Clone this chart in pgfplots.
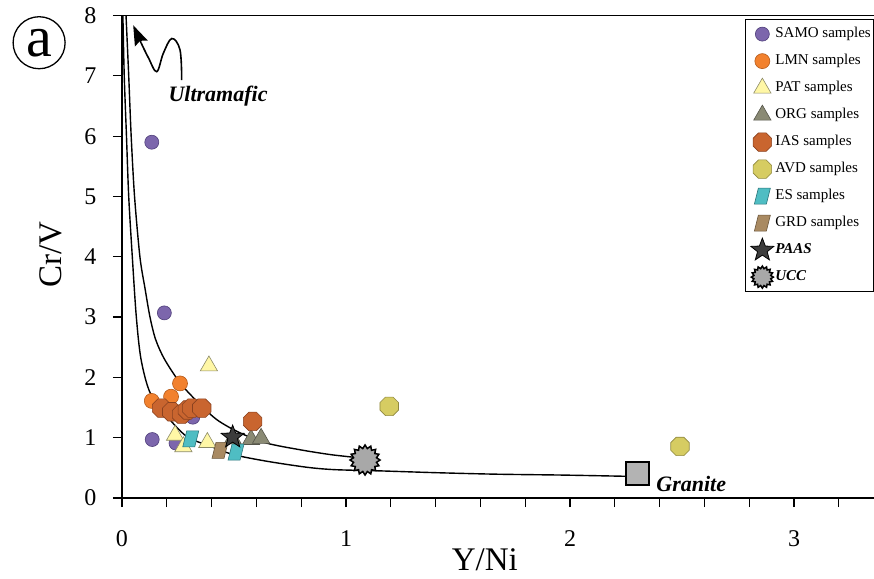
\documentclass[border=0pt]{standalone}
\usepackage{fontspec}
\setmainfont{Liberation Serif}
\usepackage{pgfplots}
\pgfplotsset{compat=1.18}
\usetikzlibrary{arrows.meta}

\definecolor{samoF}{HTML}{7C66AC}\definecolor{samoD}{HTML}{4F3F7A}
\definecolor{lmnF}{HTML}{F2812E}\definecolor{lmnD}{HTML}{B55A1A}
\definecolor{patF}{HTML}{FFF7A6}\definecolor{patD}{HTML}{8C8A66}
\definecolor{orgF}{HTML}{8A8A74}\definecolor{orgD}{HTML}{55554A}
\definecolor{iasF}{HTML}{C9652F}\definecolor{iasD}{HTML}{8A4220}
\definecolor{avdF}{HTML}{D6CC62}\definecolor{avdD}{HTML}{8F8840}
\definecolor{esF}{HTML}{4FBDC3}\definecolor{esD}{HTML}{2B7479}
\definecolor{grdF}{HTML}{A98A62}\definecolor{grdD}{HTML}{6B563B}
\definecolor{paasF}{HTML}{3C3C3C}
\definecolor{uccF}{HTML}{A8A8A8}
\definecolor{graF}{HTML}{B3B3B3}

\pgfdeclareplotmark{octa}{%
  \pgfpathmoveto{\pgfpointpolar{22.5}{\pgfplotmarksize}}%
  \pgfpathlineto{\pgfpointpolar{67.5}{\pgfplotmarksize}}%
  \pgfpathlineto{\pgfpointpolar{112.5}{\pgfplotmarksize}}%
  \pgfpathlineto{\pgfpointpolar{157.5}{\pgfplotmarksize}}%
  \pgfpathlineto{\pgfpointpolar{202.5}{\pgfplotmarksize}}%
  \pgfpathlineto{\pgfpointpolar{247.5}{\pgfplotmarksize}}%
  \pgfpathlineto{\pgfpointpolar{292.5}{\pgfplotmarksize}}%
  \pgfpathlineto{\pgfpointpolar{337.5}{\pgfplotmarksize}}%
  \pgfpathclose\pgfusepathqfillstroke}

\pgfdeclareplotmark{para}{%
  \pgfpathmoveto{\pgfqpoint{-\pgfplotmarksize}{-\pgfplotmarksize}}%
  \pgfpathlineto{\pgfqpoint{0.5\pgfplotmarksize}{-\pgfplotmarksize}}%
  \pgfpathlineto{\pgfqpoint{\pgfplotmarksize}{\pgfplotmarksize}}%
  \pgfpathlineto{\pgfqpoint{-0.5\pgfplotmarksize}{\pgfplotmarksize}}%
  \pgfpathclose\pgfusepathqfillstroke}

\pgfdeclareplotmark{fstar}{%
  \pgfpathmoveto{\pgfpointpolar{90}{\pgfplotmarksize}}%
  \pgfpathlineto{\pgfpointpolar{126}{0.42\pgfplotmarksize}}%
  \pgfpathlineto{\pgfpointpolar{162}{\pgfplotmarksize}}%
  \pgfpathlineto{\pgfpointpolar{198}{0.42\pgfplotmarksize}}%
  \pgfpathlineto{\pgfpointpolar{234}{\pgfplotmarksize}}%
  \pgfpathlineto{\pgfpointpolar{270}{0.42\pgfplotmarksize}}%
  \pgfpathlineto{\pgfpointpolar{306}{\pgfplotmarksize}}%
  \pgfpathlineto{\pgfpointpolar{342}{0.42\pgfplotmarksize}}%
  \pgfpathlineto{\pgfpointpolar{18}{\pgfplotmarksize}}%
  \pgfpathlineto{\pgfpointpolar{54}{0.42\pgfplotmarksize}}%
  \pgfpathclose\pgfusepathqfillstroke}

\pgfdeclareplotmark{burst}{%
  \pgfpathmoveto{\pgfpointpolar{0}{\pgfplotmarksize}}%
  \pgfpathlineto{\pgfpointpolar{11.25}{0.78\pgfplotmarksize}}%
  \pgfpathlineto{\pgfpointpolar{22.5}{\pgfplotmarksize}}%
  \pgfpathlineto{\pgfpointpolar{33.75}{0.78\pgfplotmarksize}}%
  \pgfpathlineto{\pgfpointpolar{45}{\pgfplotmarksize}}%
  \pgfpathlineto{\pgfpointpolar{56.25}{0.78\pgfplotmarksize}}%
  \pgfpathlineto{\pgfpointpolar{67.5}{\pgfplotmarksize}}%
  \pgfpathlineto{\pgfpointpolar{78.75}{0.78\pgfplotmarksize}}%
  \pgfpathlineto{\pgfpointpolar{90}{\pgfplotmarksize}}%
  \pgfpathlineto{\pgfpointpolar{101.25}{0.78\pgfplotmarksize}}%
  \pgfpathlineto{\pgfpointpolar{112.5}{\pgfplotmarksize}}%
  \pgfpathlineto{\pgfpointpolar{123.75}{0.78\pgfplotmarksize}}%
  \pgfpathlineto{\pgfpointpolar{135}{\pgfplotmarksize}}%
  \pgfpathlineto{\pgfpointpolar{146.25}{0.78\pgfplotmarksize}}%
  \pgfpathlineto{\pgfpointpolar{157.5}{\pgfplotmarksize}}%
  \pgfpathlineto{\pgfpointpolar{168.75}{0.78\pgfplotmarksize}}%
  \pgfpathlineto{\pgfpointpolar{180}{\pgfplotmarksize}}%
  \pgfpathlineto{\pgfpointpolar{191.25}{0.78\pgfplotmarksize}}%
  \pgfpathlineto{\pgfpointpolar{202.5}{\pgfplotmarksize}}%
  \pgfpathlineto{\pgfpointpolar{213.75}{0.78\pgfplotmarksize}}%
  \pgfpathlineto{\pgfpointpolar{225}{\pgfplotmarksize}}%
  \pgfpathlineto{\pgfpointpolar{236.25}{0.78\pgfplotmarksize}}%
  \pgfpathlineto{\pgfpointpolar{247.5}{\pgfplotmarksize}}%
  \pgfpathlineto{\pgfpointpolar{258.75}{0.78\pgfplotmarksize}}%
  \pgfpathlineto{\pgfpointpolar{270}{\pgfplotmarksize}}%
  \pgfpathlineto{\pgfpointpolar{281.25}{0.78\pgfplotmarksize}}%
  \pgfpathlineto{\pgfpointpolar{292.5}{\pgfplotmarksize}}%
  \pgfpathlineto{\pgfpointpolar{303.75}{0.78\pgfplotmarksize}}%
  \pgfpathlineto{\pgfpointpolar{315}{\pgfplotmarksize}}%
  \pgfpathlineto{\pgfpointpolar{326.25}{0.78\pgfplotmarksize}}%
  \pgfpathlineto{\pgfpointpolar{337.5}{\pgfplotmarksize}}%
  \pgfpathlineto{\pgfpointpolar{348.75}{0.78\pgfplotmarksize}}%
  \pgfpathclose\pgfusepathqfillstroke}

\pgfplotsset{
  lgimg/.style={legend image code/.code={%
    \begin{pgfinterruptboundingbox}\draw[##1] plot coordinates {(15pt,0pt)};\end{pgfinterruptboundingbox}%
    \path[draw=none,fill=none] (0pt,-8pt) rectangle (27pt,8pt);}},
}

\begin{document}
\begin{tikzpicture}
\begin{axis}[
  x=224pt, y=60.3pt,
  xmin=0, xmax=3.4, ymin=0, ymax=8,
  clip=false,
  axis x line=box, axis y line=left,
  x axis line style={-}, y axis line style={-},
  axis line style={line width=1.5pt, black},
  xtick pos=left, ytick pos=left,
  xtick={0,1,2,3},
  minor xtick={0.2,0.4,0.6,0.8,1.2,1.4,1.6,1.8,2.2,2.4,2.6,2.8,3.2},
  ytick={0,1,2,3,4,5,6,7,8},
  tick align=outside,
  major tick length=9pt, minor tick length=9pt,
  every tick/.style={black, line width=1.2pt},
  /pgf/number format/assume math mode=true,
  tick label style={font=\fontsize{24}{24}\selectfont},
  xticklabel style={yshift=-20pt},
  yticklabel style={xshift=-13pt},
  xlabel={Y/Ni}, ylabel={Cr/V},
  every axis x label/.style={at={(axis description cs:0.4765,-0.127)}, anchor=center,
    font=\fontsize{33}{33}\selectfont},
  every axis y label/.style={at={(axis description cs:-0.0932,0.505)}, rotate=90, anchor=center,
    font=\fontsize{33}{33}\selectfont},
  legend style={at={(axis cs:2.781,7.94)}, anchor=north west, draw=black, line width=0.8pt,
    font=\fontsize{15}{15}\selectfont, row sep=10pt, inner xsep=2pt, inner ysep=6pt,
    nodes={inner sep=1pt, text height=11pt, text depth=4pt, anchor=west}},
  legend cell align=left,
]
\coordinate (o) at (axis cs:0,0);

% mixing curves
\addplot[black, line width=1.4pt, smooth, tension=0.5, forget plot] coordinates {
 (0.018,8.0) (0.030,7.0) (0.041,6.0) (0.056,5.0) (0.080,4.0) (0.103,3.47) (0.125,3.0)
 (0.150,2.63) (0.190,2.30) (0.259,1.91) (0.333,1.61) (0.423,1.30) (0.527,1.08)
 (0.646,0.91) (0.795,0.80) (0.93,0.72) (1.05,0.67)};
\addplot[black, line width=1.4pt, smooth, tension=0.5, forget plot] coordinates {
 (0.004,8.0) (0.010,7.0) (0.020,6.0) (0.030,5.0) (0.046,4.0) (0.064,3.0) (0.085,2.30)
 (0.125,1.75) (0.200,1.36) (0.289,1.02) (0.393,0.86) (0.497,0.72) (0.646,0.61)
 (0.825,0.51) (0.95,0.47) (1.15,0.45) (1.40,0.42) (1.67,0.395) (1.97,0.38) (2.25,0.36)};

\addplot[only marks, lgimg, mark=*, mark size=7pt, mark options={fill=samoF, draw=samoD, line width=0.6pt}]
 coordinates {(0.133,5.90) (0.189,3.07) (0.316,1.34) (0.135,0.97) (0.241,0.91)};
\addlegendentry{SAMO samples}
\addplot[only marks, lgimg, mark=*, mark size=7.5pt, mark options={fill=lmnF, draw=lmnD, line width=0.6pt}]
 coordinates {(0.133,1.61) (0.219,1.68) (0.259,1.90)};
\addlegendentry{LMN samples}
\addplot[only marks, lgimg, mark=triangle*, mark size=10pt, mark options={fill=patF, draw=patD, line width=0.6pt}]
 coordinates {(0.388,2.19) (0.237,1.04) (0.274,0.85) (0.381,0.92)};
\addlegendentry{PAT samples}
\addplot[only marks, lgimg, mark=triangle*, mark size=10pt, mark options={fill=orgF, draw=orgD, line width=0.6pt}]
 coordinates {(0.494,0.98) (0.576,0.97) (0.621,0.99)};
\addlegendentry{ORG samples}
\addplot[only marks, lgimg, mark=octa, mark size=10pt, mark options={fill=iasF, draw=iasD, line width=0.6pt}]
 coordinates {(0.177,1.49) (0.222,1.43) (0.266,1.39) (0.292,1.46) (0.311,1.49) (0.356,1.49) (0.583,1.27)};
\addlegendentry{IAS samples}
\addplot[only marks, lgimg, mark=octa, mark size=10pt, mark options={fill=avdF, draw=avdD, line width=0.6pt}]
 coordinates {(1.193,1.52) (2.491,0.855)};
\addlegendentry{AVD samples}
\addplot[only marks, lgimg, mark=para, mark size=8pt, mark options={fill=esF, draw=esD, line width=0.6pt}]
 coordinates {(0.307,0.98) (0.509,0.76)};
\addlegendentry{ES samples}
\addplot[only marks, lgimg, mark=para, mark size=8pt, mark options={fill=grdF, draw=grdD, line width=0.6pt}]
 coordinates {(0.4375,0.79)};
\addlegendentry{GRD samples}
\addplot[only marks, lgimg, mark=fstar, mark size=12pt, mark options={fill=paasF, draw=black, line width=0.8pt}]
 coordinates {(0.494,1.01)};
\addlegendentry{\textbf{\textit{PAAS}}}
\addplot[only marks, lgimg, mark=burst, mark size=15pt, mark options={fill=uccF, draw=black, line width=1.5pt},
  legend image post style={mark size=11pt}]
 coordinates {(1.085,0.63)};
\addlegendentry{\textbf{\textit{UCC}}}
\addplot[only marks, mark=square*, mark size=11.5pt, mark options={fill=graF, draw=black, line width=2pt}, forget plot]
 coordinates {(2.302,0.40)};

\node[anchor=base west, font=\fontsize{22}{22}\selectfont\bfseries\itshape] at (axis cs:2.37,0.105) {Granite};
\node[anchor=base west, font=\fontsize{22}{22}\selectfont\bfseries\itshape] at (axis cs:0.192,6.57) {Ultramafic};
\draw[line width=1.6pt] plot[smooth, tension=0.6] coordinates {
 (axis cs:0.2665,6.93) (axis cs:0.259,7.43) (axis cs:0.222,7.62) (axis cs:0.184,7.37)
 (axis cs:0.155,7.07) (axis cs:0.118,7.30) (axis cs:0.085,7.55)};
\draw[line width=1.6pt, -{Stealth[length=20pt,width=14pt,inset=3pt]}] (axis cs:0.085,7.55) -- (axis cs:0.050,7.84);
\node[circle, draw, line width=1.3pt, minimum size=52pt, inner sep=0pt,
  font=\fontsize{58}{58}\selectfont] at (axis cs:-0.37,7.55) {a};
\end{axis}
\pgfresetboundingbox
\path (o) ++(-122pt,-80pt) rectangle ++(874pt,578pt);
\end{tikzpicture}
\end{document}
